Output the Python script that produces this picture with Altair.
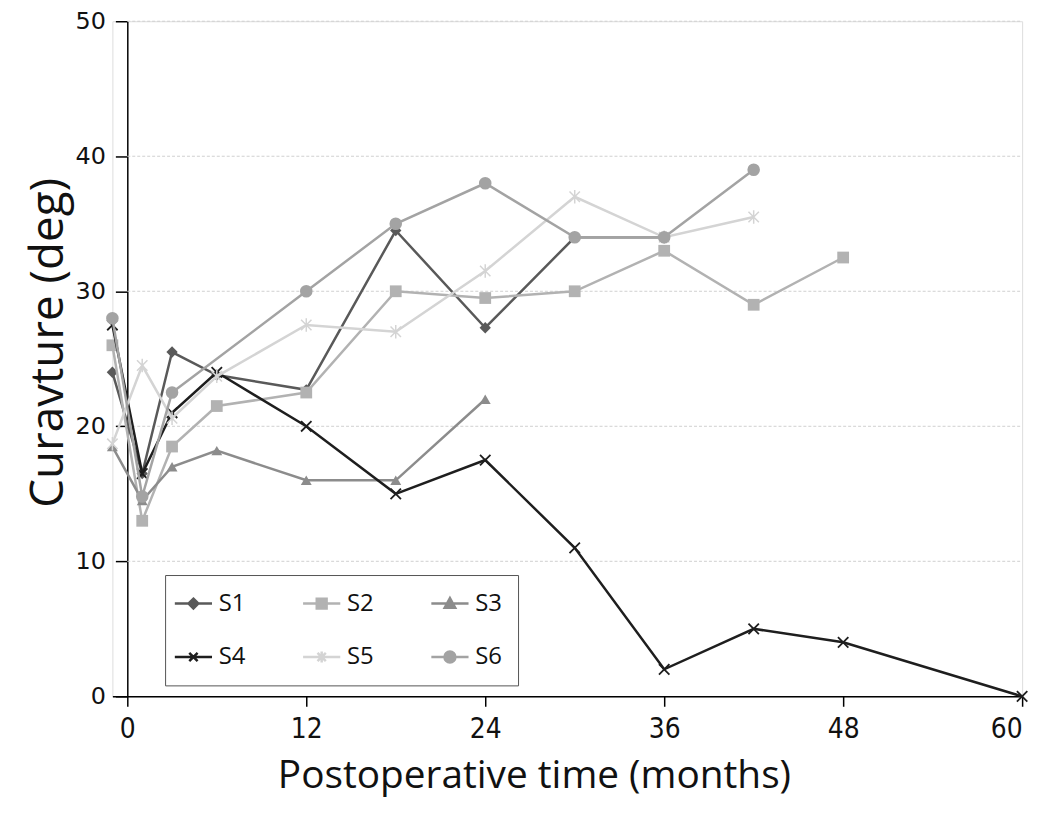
import altair as alt
import pandas as pd

series = ["S1", "S2", "S3", "S4", "S5", "S6"]

months_S1 = [-1, 1, 3, 6, 12, 18, 24, 30, 36]
vals_S1 = [24, 16.5, 25.5, 23.8, 22.7, 34.5, 27.3, 34, 34]
months_S2 = [-1, 1, 3, 6, 12, 18, 24, 30, 36, 42, 48]
vals_S2 = [26, 13, 18.5, 21.5, 22.5, 30, 29.5, 30, 33, 29, 32.5]
months_S3 = [-1, 1, 3, 6, 12, 18, 24]
vals_S3 = [18.5, 14.5, 17, 18.2, 16, 16, 22]
months_S4 = [-1, 1, 3, 6, 12, 18, 24, 30, 36, 42, 48, 60]
vals_S4 = [27.5, 16.5, 21, 24, 20, 15, 17.5, 11, 2, 5, 4, 0]
months_S5 = [-1, 1, 3, 6, 12, 18, 24, 30, 36, 42]
vals_S5 = [18.7, 24.5, 20.6, 23.7, 27.5, 27, 31.5, 37, 34, 35.5]
months_S6 = [-1, 1, 3, 12, 18, 24, 30, 36, 42]
vals_S6 = [28, 14.8, 22.5, 30, 35, 38, 34, 34, 39]

x_ticks = [0, 12, 24, 36, 48, 60]
y_ticks = [0, 10, 20, 30, 40, 50]
grid_vals = [10, 20, 30, 40, 50]

colors = ["#595959", "#b2b2b2", "#8c8c8c", "#1e1e1e", "#d4d4d4", "#a3a3a3"]

months_all = [months_S1, months_S2, months_S3, months_S4, months_S5, months_S6]
vals_all = [vals_S1, vals_S2, vals_S3, vals_S4, vals_S5, vals_S6]

rows = []
for s, ms, vs in zip(series, months_all, vals_all):
    for m, v in zip(ms, vs):
        rows.append({"series": s, "month": m, "value": v})
df = pd.DataFrame(rows)

grid_df = pd.DataFrame({"value": grid_vals, "month": [0] * len(grid_vals), "month2": [60] * len(grid_vals)})

TITLE_FONT = "Open Sans"
NARROW = "Liberation Sans Narrow, DejaVu Sans Condensed, Open Sans"

x_enc = alt.X(
    "month:Q",
    scale=alt.Scale(domain=[-1, 60], nice=False, zero=False),
    axis=alt.Axis(
        values=x_ticks, title="Postoperative time (months)", grid=False,
        domainColor="black", domainWidth=1.5, tickColor="black", tickWidth=1.5, tickSize=10,
        labelFont=NARROW, labelFontSize=28, labelColor="#111", labelPadding=9,
        titleFont=TITLE_FONT, titleFontSize=39, titleFontWeight="normal", titleColor="#111",
        titlePadding=14, titleX=424,
    ),
)
y_enc = alt.Y(
    "value:Q",
    scale=alt.Scale(domain=[0, 50], nice=False),
    axis=alt.Axis(
        values=y_ticks, title="Curavture (deg)", grid=False, offset=-15,
        domainColor="black", domainWidth=1.5, tickColor="black", tickWidth=1.5, tickSize=12,
        labelFont="DejaVu Sans", labelFontSize=24, labelColor="#111", labelPadding=10,
        titleFont=TITLE_FONT, titleFontSize=46, titleFontWeight="normal", titleColor="#111",
        titlePadding=3, titleY=323,
    ),
)

grid = alt.Chart(grid_df).mark_rule(color="#d0d0d0", strokeWidth=1, strokeDash=[3, 2]).encode(
    x=x_enc, x2="month2:Q", y=y_enc
)

marker_specs = {
    "S1": dict(shape="diamond", filled=True, size=130),
    "S2": dict(shape="square", filled=True, size=140),
    "S3": dict(shape="triangle-up", filled=True, size=120),
    "S4": dict(shape="M-1,-1L1,1M-1,1L1,-1", filled=False, size=110, strokeWidth=1.8),
    "S5": dict(shape="M-1,-1L1,1M-1,1L1,-1M0,-1.3L0,1.3", filled=False, size=110, strokeWidth=1.5),
    "S6": dict(shape="circle", filled=True, size=160),
}

layers = [grid]
for s, c in zip(series, colors):
    sub = alt.Chart(df).transform_filter(alt.datum.series == s)
    layers.append(sub.mark_line(color=c, strokeWidth=2.5).encode(x=x_enc, y=y_enc, order="month:Q"))
    layers.append(sub.mark_point(color=c, opacity=1, **marker_specs[s]).encode(x=x_enc, y=y_enc))

legend_paths = [
    "M-1.7,0L1.7,0M0,-0.45L0.45,0L0,0.45L-0.45,0Z",
    "M-1.7,0L1.7,0M-0.45,-0.45L0.45,-0.45L0.45,0.45L-0.45,0.45Z",
    "M-1.7,0L1.7,0M0,-0.5L0.48,0.38L-0.48,0.38Z",
    "M-1.7,0L1.7,0M-0.38,-0.38L0.38,0.38M-0.38,0.38L0.38,-0.38",
    "M-1.7,0L1.7,0M-0.38,-0.38L0.38,0.38M-0.38,0.38L0.38,-0.38M0,-0.5L0,0.5",
    "M-1.7,0L1.7,0M0.5,0A0.5,0.5,0,1,1,-0.5,0A0.5,0.5,0,1,1,0.5,0Z",
]

def make_legend():
    return alt.Legend(
        title=None, orient="none", legendX=53, legendY=557, columns=3, direction="horizontal",
        symbolSize=484, symbolStrokeWidth=2.5, labelFont="Open Sans", labelFontSize=24,
        labelColor="#111", labelOffset=13, padding=16, strokeColor="#555", fillColor="white",
        columnPadding=52, rowPadding=29,
    )

legend_layer = alt.Chart(df).transform_filter("false").mark_point(filled=True, opacity=1).encode(
    x=x_enc, y=y_enc,
    fill=alt.Fill("series:N", scale=alt.Scale(domain=series, range=colors), legend=make_legend()),
    stroke=alt.Stroke("series:N", scale=alt.Scale(domain=series, range=colors), legend=make_legend()),
    shape=alt.Shape("series:N", scale=alt.Scale(domain=series, range=legend_paths), legend=make_legend()),
)
layers.append(legend_layer)

chart = alt.layer(*layers).properties(
    width=915, height=679,
    autosize=alt.AutoSizeParams(type="none"),
    padding={"left": 105, "top": 11, "right": 20, "bottom": 109},
).configure_view(stroke=None).configure(background="white")

chart.save("out.html", embed_options={"renderer": "svg", "actions": False})
